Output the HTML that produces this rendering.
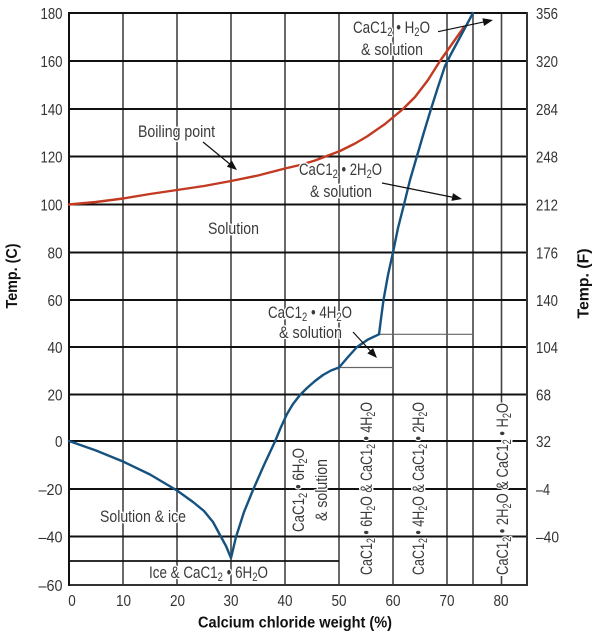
<!DOCTYPE html>
<html><head><meta charset="utf-8"><style>
html,body{margin:0;padding:0;background:#fff}
svg{display:block}
text{font-family:"Liberation Sans",Arial,sans-serif}
.t{font-size:16px;fill:#333}
.l{font-size:17px;fill:#3a3a3a;paint-order:stroke;stroke:#fff;stroke-width:3px;stroke-linejoin:round}
.b{font-size:16px;font-weight:bold;fill:#111}
.s{font-size:12px}
</style></head><body>
<svg width="600" height="639" viewBox="0 0 600 639" xmlns="http://www.w3.org/2000/svg">
<rect width="600" height="639" fill="#fff"/>
<g stroke="#444" stroke-width="1.6">
<line x1="123" y1="13" x2="123" y2="585"/>
<line x1="177" y1="13" x2="177" y2="585"/>
<line x1="231" y1="13" x2="231" y2="585"/>
<line x1="285" y1="13" x2="285" y2="585"/>
<line x1="339" y1="13" x2="339" y2="585"/>
<line x1="393" y1="13" x2="393" y2="585"/>
<line x1="447" y1="13" x2="447" y2="585"/>
<line x1="473" y1="13" x2="473" y2="585"/>
<line x1="501.5" y1="13" x2="501.5" y2="403"/>
<line x1="501.5" y1="576" x2="501.5" y2="585"/>
</g>
<g stroke="#111" stroke-width="2">
<line x1="69" y1="13" x2="527" y2="13"/>
<line x1="69" y1="61" x2="527" y2="61"/>
<line x1="69" y1="109" x2="527" y2="109"/>
<line x1="69" y1="156.5" x2="527" y2="156.5"/>
<line x1="69" y1="204.5" x2="527" y2="204.5"/>
<line x1="69" y1="252.5" x2="527" y2="252.5"/>
<line x1="69" y1="300" x2="527" y2="300"/>
<line x1="69" y1="347" x2="527" y2="347"/>
<line x1="69" y1="394.5" x2="527" y2="394.5"/>
<line x1="69" y1="441" x2="527" y2="441"/>
<line x1="69" y1="489" x2="527" y2="489"/>
<line x1="69" y1="536.5" x2="527" y2="536.5"/>
<line x1="69" y1="561" x2="339" y2="561" stroke-width="1.8"/>
</g>
<line x1="69" y1="585" x2="527" y2="585" stroke="#333" stroke-width="2"/>
<line x1="69" y1="12" x2="69" y2="586" stroke="#111" stroke-width="2"/>
<line x1="527" y1="12" x2="527" y2="586" stroke="#333" stroke-width="2"/>
<g stroke="#666" stroke-width="1.2">
<line x1="339" y1="367.5" x2="393" y2="367.5"/>
<line x1="379" y1="334.3" x2="473" y2="334.3"/>
</g>
<polyline fill="none" stroke="#c33a22" stroke-width="2.4" stroke-linejoin="round" stroke-linecap="round"
points="69,204.5 96,202 123,198.5 150,194 177,190 204,186 231,181 258,175.5 285,168.5 300,165 315,160.5 340,151 355,143.5 367,136.5 385,124 403,109 415,97 428,80 440,61 452,44 464,27"/>
<polyline fill="none" stroke="#15527f" stroke-width="2.4" stroke-linejoin="round" stroke-linecap="round"
points="69,441 96,450.5 123,461.5 150,474.5 177,490.5 193,502 204,511 213,522 220,535 226,546 231,558 236,537 244,512 253,490 264,465 275,441.5 281,427 287,414 293,404 300,395 307,388 315,381 323,375 331,370.5 339,367.5 348,357 357,347 368,339.5 379,334.3 381.5,315 383.5,300 388,275 393.3,251 398,228 404,204.5 410,180 417,156 424,132 431,109 438,87 445,66 451,54 458,41 466,26 473,13"/>
<g stroke="#111" stroke-width="1.2">
<line x1="203" y1="142" x2="231" y2="165"/>
<line x1="382" y1="183" x2="454" y2="197.5"/>
<line x1="438" y1="31.7" x2="485" y2="21.7"/>
<line x1="353" y1="332" x2="371" y2="351.5"/>
</g>
<g fill="#111">
<polygon points="237,170 226.8,166.7 231.8,160.5"/>
<polygon points="462,199 451.4,200.9 453,193.1"/>
<polygon points="493,20 484,26 482.4,18.2"/>
<polygon points="377,358 367.3,353.4 373.1,348"/>
</g>
<g class="t" text-anchor="end">
<text x="62.5" y="19" textLength="22" lengthAdjust="spacingAndGlyphs">180</text>
<text x="62.5" y="67" textLength="22" lengthAdjust="spacingAndGlyphs">160</text>
<text x="62.5" y="115" textLength="22" lengthAdjust="spacingAndGlyphs">140</text>
<text x="62.5" y="162.5" textLength="22" lengthAdjust="spacingAndGlyphs">120</text>
<text x="62.5" y="210.5" textLength="22" lengthAdjust="spacingAndGlyphs">100</text>
<text x="62.5" y="258.5" textLength="15" lengthAdjust="spacingAndGlyphs">80</text>
<text x="62.5" y="306" textLength="15" lengthAdjust="spacingAndGlyphs">60</text>
<text x="62.5" y="353" textLength="15" lengthAdjust="spacingAndGlyphs">40</text>
<text x="62.5" y="400.5" textLength="15" lengthAdjust="spacingAndGlyphs">20</text>
<text x="62.5" y="447" textLength="7.5" lengthAdjust="spacingAndGlyphs">0</text>
<text x="62.5" y="495" textLength="24" lengthAdjust="spacingAndGlyphs">–20</text>
<text x="62.5" y="542.5" textLength="24" lengthAdjust="spacingAndGlyphs">–40</text>
<text x="62.5" y="591" textLength="24" lengthAdjust="spacingAndGlyphs">–60</text>
</g>
<g class="t">
<text x="536" y="19" textLength="22" lengthAdjust="spacingAndGlyphs">356</text>
<text x="536" y="67" textLength="22" lengthAdjust="spacingAndGlyphs">320</text>
<text x="536" y="115" textLength="22" lengthAdjust="spacingAndGlyphs">284</text>
<text x="536" y="162.5" textLength="22" lengthAdjust="spacingAndGlyphs">248</text>
<text x="536" y="210.5" textLength="22" lengthAdjust="spacingAndGlyphs">212</text>
<text x="536" y="258.5" textLength="22" lengthAdjust="spacingAndGlyphs">176</text>
<text x="536" y="306" textLength="22" lengthAdjust="spacingAndGlyphs">140</text>
<text x="536" y="353" textLength="22" lengthAdjust="spacingAndGlyphs">104</text>
<text x="536" y="400.5" textLength="15" lengthAdjust="spacingAndGlyphs">68</text>
<text x="536" y="447" textLength="15" lengthAdjust="spacingAndGlyphs">32</text>
<text x="536" y="495" textLength="14" lengthAdjust="spacingAndGlyphs">–4</text>
<text x="536" y="542.5" textLength="23" lengthAdjust="spacingAndGlyphs">–40</text>
</g>
<g class="t" text-anchor="middle">
<text x="72" y="606" textLength="7.5" lengthAdjust="spacingAndGlyphs">0</text>
<text x="123.5" y="606" textLength="15" lengthAdjust="spacingAndGlyphs">10</text>
<text x="177.5" y="606" textLength="15" lengthAdjust="spacingAndGlyphs">20</text>
<text x="231" y="606" textLength="15" lengthAdjust="spacingAndGlyphs">30</text>
<text x="285" y="606" textLength="15" lengthAdjust="spacingAndGlyphs">40</text>
<text x="339" y="606" textLength="15" lengthAdjust="spacingAndGlyphs">50</text>
<text x="393" y="606" textLength="15" lengthAdjust="spacingAndGlyphs">60</text>
<text x="447" y="606" textLength="15" lengthAdjust="spacingAndGlyphs">70</text>
<text x="501" y="606" textLength="15" lengthAdjust="spacingAndGlyphs">80</text>
</g>
<text class="b" x="198" y="627.5" textLength="194" lengthAdjust="spacingAndGlyphs" style="font-size:16px">Calcium chloride weight (%)</text>
<text class="b" transform="translate(17,308.5) rotate(-90)" textLength="65" lengthAdjust="spacingAndGlyphs">Temp. (C)</text>
<text class="b" transform="translate(588.5,318.5) rotate(-90)" textLength="70" lengthAdjust="spacingAndGlyphs">Temp. (F)</text>
<g class="l">
<text x="138" y="137" textLength="77" lengthAdjust="spacingAndGlyphs">Boiling point</text>
<text x="208" y="234" textLength="51" lengthAdjust="spacingAndGlyphs">Solution</text>
<text x="268" y="318" textLength="84" lengthAdjust="spacingAndGlyphs">CaC1<tspan class="s" dy="3">2</tspan><tspan dy="-3"> • 4H</tspan><tspan class="s" dy="3">2</tspan><tspan dy="-3">O</tspan></text>
<text x="279" y="338" textLength="63" lengthAdjust="spacingAndGlyphs">&amp; solution</text>
<text x="299" y="175" textLength="83" lengthAdjust="spacingAndGlyphs">CaC1<tspan class="s" dy="3">2</tspan><tspan dy="-3"> • 2H</tspan><tspan class="s" dy="3">2</tspan><tspan dy="-3">O</tspan></text>
<text x="310" y="197" textLength="62" lengthAdjust="spacingAndGlyphs">&amp; solution</text>
<text x="353" y="33" textLength="77" lengthAdjust="spacingAndGlyphs">CaC1<tspan class="s" dy="3">2</tspan><tspan dy="-3"> • H</tspan><tspan class="s" dy="3">2</tspan><tspan dy="-3">O</tspan></text>
<text x="361" y="55" textLength="62" lengthAdjust="spacingAndGlyphs">&amp; solution</text>
<text x="100" y="522" textLength="86" lengthAdjust="spacingAndGlyphs">Solution &amp; ice</text>
<text x="149" y="578" textLength="119" lengthAdjust="spacingAndGlyphs">Ice &amp; CaC1<tspan class="s" dy="3">2</tspan><tspan dy="-3"> • 6H</tspan><tspan class="s" dy="3">2</tspan><tspan dy="-3">O</tspan></text>
<text transform="translate(304,532) rotate(-90)" textLength="84" lengthAdjust="spacingAndGlyphs">CaC1<tspan class="s" dy="3">2</tspan><tspan dy="-3"> • 6H</tspan><tspan class="s" dy="3">2</tspan><tspan dy="-3">O</tspan></text>
<text transform="translate(327,521) rotate(-90)" textLength="62" lengthAdjust="spacingAndGlyphs">&amp; solution</text>
<text transform="translate(372,575) rotate(-90)" textLength="173" lengthAdjust="spacingAndGlyphs">CaC1<tspan class="s" dy="3">2</tspan><tspan dy="-3"> • 6H</tspan><tspan class="s" dy="3">2</tspan><tspan dy="-3">O &amp; CaC1</tspan><tspan class="s" dy="3">2</tspan><tspan dy="-3"> • 4H</tspan><tspan class="s" dy="3">2</tspan><tspan dy="-3">O</tspan></text>
<text transform="translate(424,575) rotate(-90)" textLength="173" lengthAdjust="spacingAndGlyphs">CaC1<tspan class="s" dy="3">2</tspan><tspan dy="-3"> • 4H</tspan><tspan class="s" dy="3">2</tspan><tspan dy="-3">O &amp; CaC1</tspan><tspan class="s" dy="3">2</tspan><tspan dy="-3"> • 2H</tspan><tspan class="s" dy="3">2</tspan><tspan dy="-3">O</tspan></text>
<text transform="translate(508,575) rotate(-90)" textLength="172" lengthAdjust="spacingAndGlyphs">CaC1<tspan class="s" dy="3">2</tspan><tspan dy="-3"> • 2H</tspan><tspan class="s" dy="3">2</tspan><tspan dy="-3">O &amp; CaC1</tspan><tspan class="s" dy="3">2</tspan><tspan dy="-3"> • H</tspan><tspan class="s" dy="3">2</tspan><tspan dy="-3">O</tspan></text>
</g>
</svg>
</body></html>
